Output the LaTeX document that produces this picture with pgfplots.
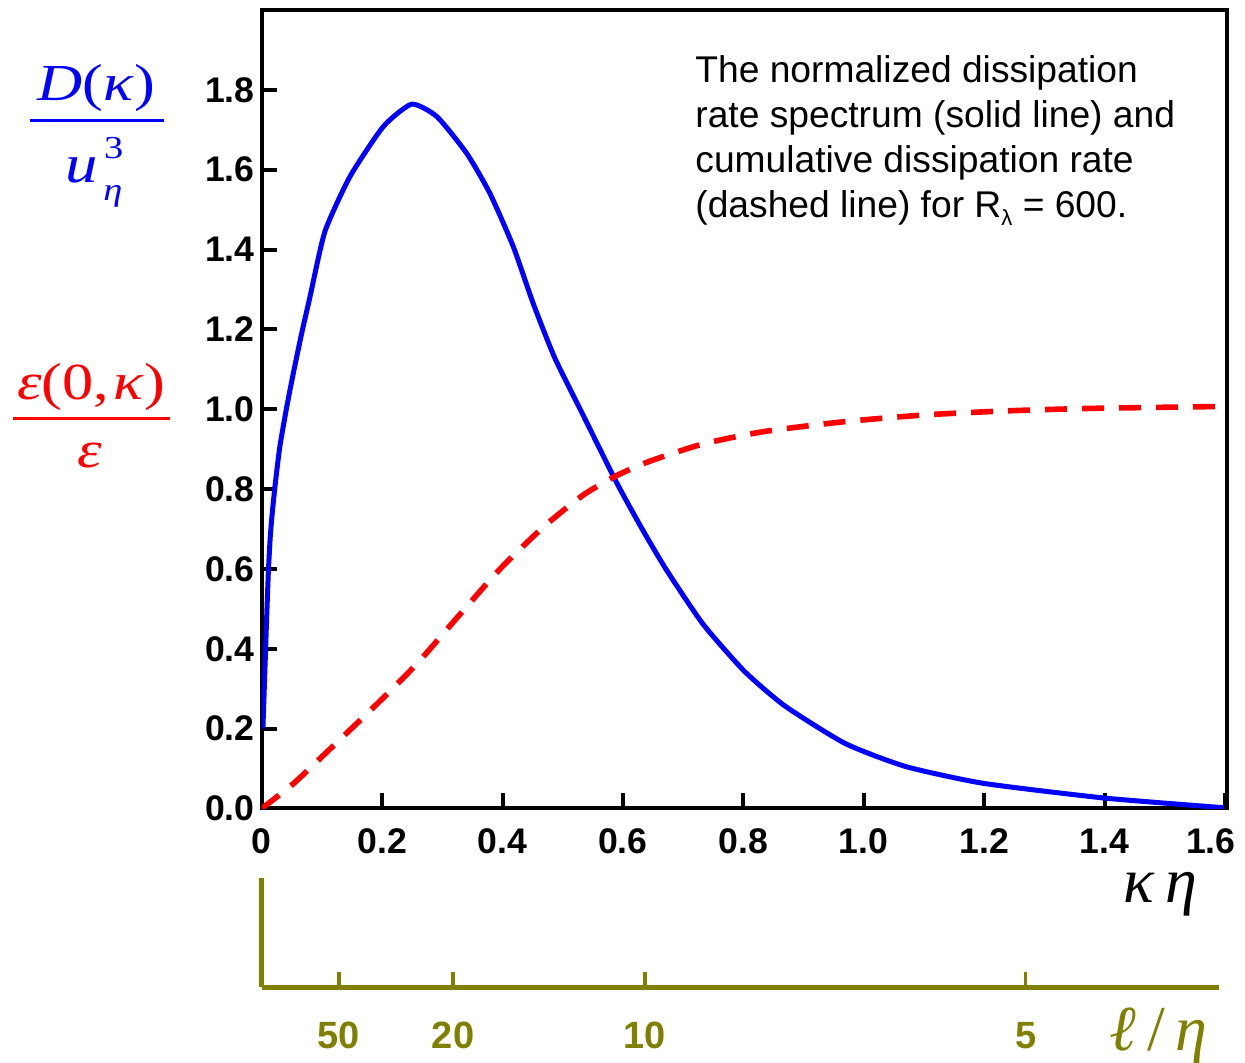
\documentclass[border=0pt]{standalone}
\usepackage{pgfplots}
\pgfplotsset{compat=1.18}
\usepackage{fontspec}
\setmainfont{Liberation Sans}
\newfontfamily\tmsw[FakeStretch=1.2]{Liberation Serif}
\newfontfamily\tms{Liberation Serif}
\definecolor{olv}{RGB}{128,128,0}
\begin{document}
\begin{tikzpicture}
\begin{axis}[
  at={(0pt,0pt)}, anchor=south west,
  scale only axis, width=482.65pt, height=399.25pt,
  xmin=0, xmax=1.6035, ymin=0, ymax=2.0,
  axis line style={line width=2pt},
  tick style={line width=2pt, black},
  major tick length=7.5pt,
  tick align=inside, xtick pos=bottom, ytick pos=left,
  xtick={0,0.2,0.4,0.6,0.8,1.0,1.2,1.4,1.6},
  xticklabels={0,0.2,0.4,0.6,0.8,1.0,1.2,1.4,\hspace*{-14pt}1.6},
  ytick={0,0.2,0.4,0.6,0.8,1.0,1.2,1.4,1.6,1.8},
  yticklabels={0.0,0.2,0.4,0.6,0.8,1.0,1.2,1.4,1.6,1.8},
  /pgf/number format/assume math mode=true,
  ticklabel style={font=\fontsize{17.8}{20}\selectfont\bfseries},
  xticklabel style={yshift=-6.5pt},
]
\addplot[blue, line width=2.5pt, smooth, tension=0.35] coordinates {
(0.002,0.20) (0.0055,0.355) (0.0083,0.48) (0.011,0.59) (0.0138,0.67)
(0.0166,0.725) (0.022,0.806) (0.030,0.905) (0.0415,1.005) (0.0525,1.09)
(0.0664,1.19) (0.080,1.28) (0.105,1.445) (0.1467,1.583) (0.202,1.708)
(0.249,1.764) (0.291,1.733) (0.3405,1.641) (0.379,1.541) (0.418,1.407)
(0.451,1.265) (0.487,1.128) (0.534,0.985) (0.590,0.815) (0.632,0.70)
(0.673,0.596) (0.733,0.462) (0.801,0.345) (0.868,0.258) (0.969,0.163)
(1.070,0.105) (1.199,0.063) (1.401,0.026) (1.598,0.002)
};
\addplot[red, line width=2.8pt, dash pattern=on 11pt off 7.5pt, smooth, tension=0.4] coordinates {
(0,0) (0.0525,0.062) (0.119,0.157) (0.191,0.261) (0.2575,0.362)
(0.324,0.477) (0.396,0.600) (0.468,0.705) (0.534,0.785) (0.590,0.834)
(0.645,0.870) (0.733,0.913) (0.834,0.944) (0.969,0.969) (1.104,0.986)
(1.239,0.996) (1.374,1.002) (1.598,1.007)
};
\end{axis}
\begin{axis}[
  at={(0pt,-89.4pt)}, anchor=south west,
  scale only axis, width=478.8pt, height=54.65pt,
  xmin=0, xmax=1.5907, ymin=0, ymax=1,
  axis x line=bottom, axis y line=left,
  axis line style={-, draw=olv, line width=2.5pt},
  ytick=\empty,
  xtick={0.1284,0.3178,0.6367,1.269},
  xticklabels={50,20,10,5},
  tick align=inside, major tick length=7.5pt,
  tick style={draw=olv, line width=1.8pt},
  /pgf/number format/assume math mode=true,
  xticklabel style={text=olv, font=\fontsize{19}{21}\selectfont\bfseries, yshift=-14pt},
]
\end{axis}
% annotation
\node[anchor=north west, align=left, inner sep=0pt, font=\fontsize{18.6}{22.4}\selectfont]
  at (216.65pt,376.6pt) {The normalized dissipation\\rate spectrum (solid line) and\\cumulative dissipation rate\\(dashed line) for R\raisebox{-0.45ex}{\fontsize{11}{11}\selectfont λ} = 600.};
% blue y label
\node[anchor=base, inner sep=0pt, text=blue, font=\tmsw\fontsize{26}{30}\selectfont] at (-82.6pt,353.9pt) {\textit{D}(\textit{κ})};
\draw[blue, line width=1.5pt] (-115.85pt,343.75pt) -- (-48.85pt,343.75pt);
\node[anchor=base, inner sep=0pt, text=blue, font=\tmsw\fontsize{27}{30}\selectfont] at (-90pt,312.75pt) {\textit{u}};
\node[anchor=base, inner sep=0pt, text=blue, font=\tmsw\fontsize{16}{18}\selectfont] at (-74pt,325pt) {3};
\node[anchor=base, inner sep=0pt, text=blue, font=\tmsw\fontsize{16}{18}\selectfont] at (-74.4pt,304.2pt) {\textit{η}};
% red y label
\node[anchor=base, inner sep=0pt, text=red, font=\tmsw\fontsize{26}{30}\selectfont] at (-85.35pt,204.25pt) {\textit{ε}(0,\kern2pt\textit{κ})};
\draw[red, line width=1.5pt] (-124.35pt,194.75pt) -- (-45.85pt,194.75pt);
\node[anchor=base, inner sep=0pt, text=red, font=\tmsw\fontsize{26}{30}\selectfont] at (-85.85pt,170.25pt) {\textit{ε}};
% kappa eta
\node[anchor=base, inner sep=0pt, font=\tms\fontsize{32}{36}\selectfont] at (449.4pt,-46.75pt) {\textit{κ}\,\textit{η}};
% ell / eta
\node[anchor=base, inner sep=0pt, text=olv, font=\tms\fontsize{32}{36}\selectfont] at (448.4pt,-120.75pt) {\textit{ℓ}\,/\,\textit{η}};
\pgfresetboundingbox
\path (-130.85pt,-127.25pt) rectangle (491.65pt,404.25pt);
\end{tikzpicture}
\end{document}
